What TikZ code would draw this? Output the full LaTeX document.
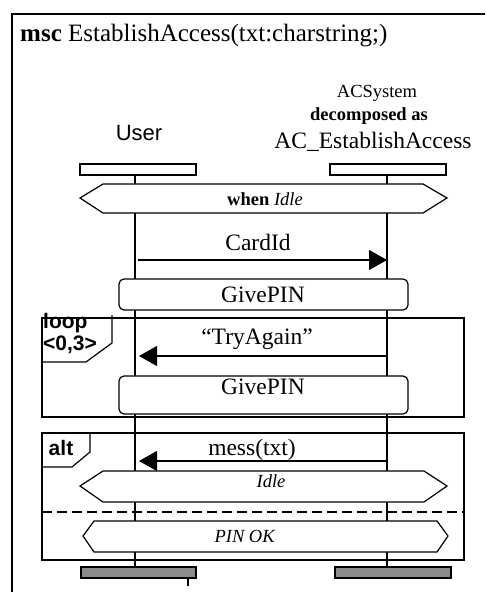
\documentclass[tikz,border=0pt]{standalone}
\usepackage{fontspec}
\setmainfont{Liberation Serif}
\newfontfamily\arialf{Liberation Sans}
\usetikzlibrary{arrows.meta}
\tikzset{
  ln/.style={line width=1.1pt},
  frm/.style={line width=1.2pt},
  headbox/.style={draw, line width=1.2pt, fill=white},
  endbox/.style={draw, line width=1.2pt, fill=endgray},
  refbox/.style={draw, line width=1.2pt, fill=white, rounded corners=5pt},
  cond/.style={draw, line width=1.2pt, fill=white},
  msg/.style={line width=1.1pt, -{Triangle[length=18pt,width=20pt]}, shorten >=0pt},
  lbl/.style={inner sep=0pt, font=\fontsize{23.5}{26}\selectfont},
  condtxt/.style={inner sep=0pt, font=\fontsize{18.5}{20}\selectfont},
  optxt/.style={inner sep=0pt, font=\arialf\bfseries\fontsize{21}{22}\selectfont, align=left},
}
\definecolor{endgray}{RGB}{140,140,140}
\begin{document}
\begin{tikzpicture}[x=1pt,y=-1pt]
\useasboundingbox (0,0) rectangle (485,592);
\clip (0,0) rectangle (485,592);
\fill[white] (0,0) rectangle (485,592);
% outer frame
\draw[frm] (12,14) rectangle (495,605);
\node[anchor=base west, inner sep=0pt, font=\fontsize{25}{27}\selectfont] (title) at (20,41) {\textbf{msc} EstablishAccess(txt:charstring;)};
% instance headings
\node[inner sep=0pt, font=\fontsize{18.5}{20}\selectfont] (acs) at (377,93) {ACSystem};
\node[inner sep=0pt, font=\bfseries\fontsize{18.5}{20}\selectfont] (dec) at (369,116) {decomposed as};
\node[inner sep=0pt, font=\fontsize{23.5}{26}\selectfont] (acea) at (373,142) {AC\_EstablishAccess};
\node[inner sep=0pt, font=\arialf\fontsize{22}{24}\selectfont] (user) at (139,133) {User};
% lifelines
\coordinate (uTop) at (135,175);
\coordinate (uBot) at (135,567);
\coordinate (aTop) at (387,175);
\coordinate (aBot) at (387,567);
\draw[ln] (uTop) -- (uBot);
\draw[ln] (aTop) -- (aBot);
% head boxes
\draw[headbox] (80,164) rectangle (196,175);
\draw[headbox] (330,164) rectangle (446,175);
% when Idle condition
\draw[cond] (80,198) -- (103,184) -- (423,184) -- (447,198) -- (423,213) -- (103,213) -- cycle;
\node[condtxt] (when) at (265,199) {\textbf{when} \textit{Idle}};
% CardId
\node[lbl] (cardid) at (258,242) {CardId};
\coordinate (c1s) at (138,260);
\coordinate (c1e) at (387,260);
\draw[msg] (c1s) -- (c1e);
% GivePIN 1
\draw[refbox] (119,279) rectangle (408,310);
\node[lbl] (gp1) at (263,295) {GivePIN};
% loop frame
\draw[frm] (42,318) rectangle (464,417);
\draw[frm] (112,315) -- (112,343) -- (86,362) -- (42,362);
\node[optxt, anchor=north west] (looplbl) at (43,313) {loop\\<0,3>};
% TryAgain
\node[lbl] (try) at (257,339) {“TryAgain”};
\coordinate (c2s) at (388,356);
\coordinate (c2e) at (139,356);
\draw[msg] (c2s) -- (c2e);
% GivePIN 2
\draw[refbox] (119,376) rectangle (408,414);
\node[lbl] (gp2) at (263,387) {GivePIN};
% alt frame
\draw[frm] (42,433) rectangle (464,560);
\draw[frm] (90,432) -- (90,452) -- (72,467) -- (42,467);
\node[optxt] (altlbl) at (61,448) {alt};
% mess(txt)
\node[lbl] (mess) at (252,450) {mess(txt)};
\coordinate (c3s) at (388,461);
\coordinate (c3e) at (139,461);
\draw[msg] (c3s) -- (c3e);
% Idle condition
\draw[cond] (80,486) -- (103,471) -- (424,471) -- (447,486) -- (424,502) -- (103,502) -- cycle;
\node[condtxt] (idle) at (271,481) {\textit{Idle}};
% dashed separator
\coordinate (dl) at (42,512);
\coordinate (dr) at (464,512);
\draw[ln, dash pattern=on 10pt off 5pt] (dl) -- (dr);
% PIN OK condition
\draw[cond] (83,536) -- (94,521) -- (437,521) -- (448,536) -- (437,552) -- (94,552) -- cycle;
\node[condtxt] (pinok) at (245,536) {\textit{PIN OK}};
% end boxes
\draw[endbox] (81,567) rectangle (196,578);
\draw[endbox] (335,567) rectangle (451,578);
\coordinate (tk1) at (188,578);
\coordinate (tk2) at (188,586);
\draw[ln] (tk1) -- (tk2);
\end{tikzpicture}
\end{document}
